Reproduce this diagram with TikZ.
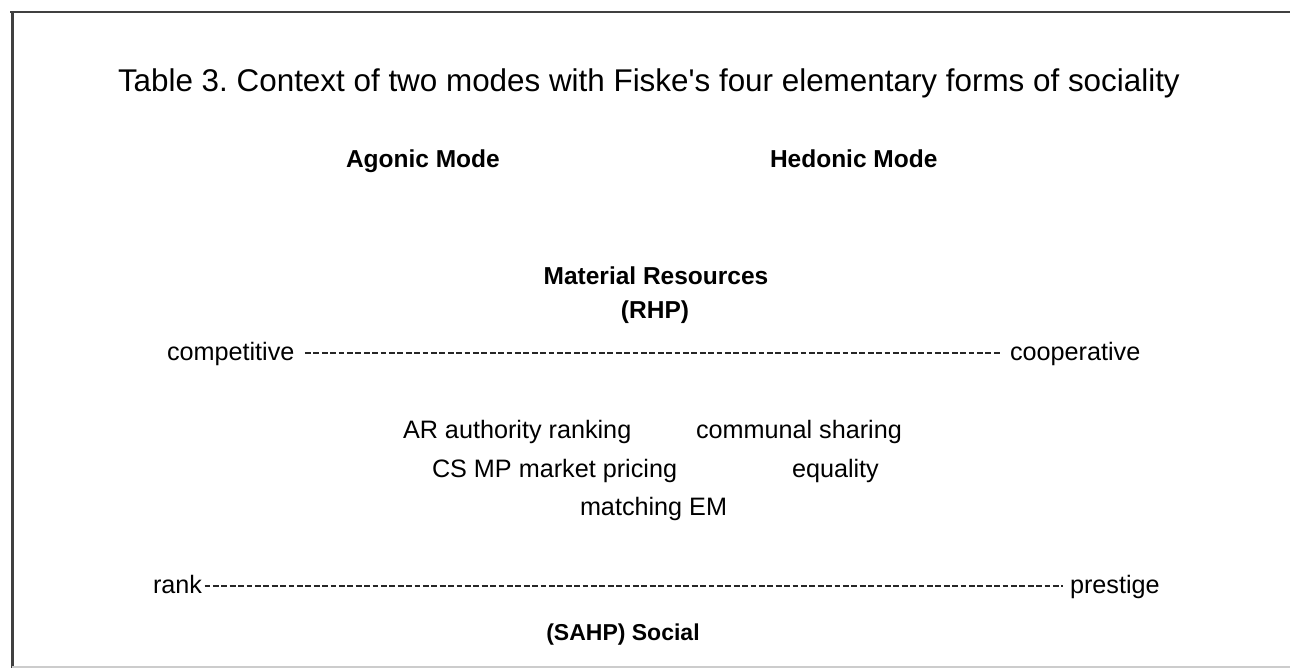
\documentclass[tikz,border=0pt]{standalone}
\usepackage{fontspec}
\newfontfamily\arialf{Liberation Sans}
\begin{document}
\begin{tikzpicture}[x=1pt,y=1pt,
  every node/.style={inner sep=0pt,outer sep=0pt,anchor=base west},
  titletxt/.style={font=\arialf\frenchspacing\fontsize{31.4}{36}\selectfont},
  bodytxt/.style={font=\arialf\fontsize{25.2}{30}\selectfont},
  headtxt/.style={font=\arialf\fontsize{24.5}{29}\selectfont\bfseries},
  hyphenline/.style={line width=1.6pt,dash pattern=on 5.8pt off 2.6pt,black!85},
  frameline/.style={draw=black!75,line width=2.6pt}]
\useasboundingbox (0,0) rectangle (1290,-668);
% frame
\draw[frameline] (10,-12) -- (1290,-12);
\draw[frameline,line width=3pt] (12,-12) -- (12,-668);
\draw[black!20,line width=1.5pt] (12,-667) -- (1290,-667);
% title
\node[titletxt] (title) at (118,-92) {Table 3. Context of two modes with Fiske's four elementary forms of sociality};
% modes
\node[headtxt] (agonic) at (346,-168) {Agonic Mode};
\node[headtxt] (hedonic) at (770,-168) {Hedonic Mode};
% material
\node[headtxt,anchor=base] (mat) at (656,-284) {Material Resources};
\node[headtxt,anchor=base] (rhp) at (655,-318) {(RHP)};
% competitive line
\node[bodytxt] (comp) at (167,-360) {competitive};
\node[bodytxt] (coop) at (1010,-360) {cooperative};
\draw[hyphenline] ([shift={(10.5pt,6.8pt)}]comp.base east) -- ([shift={(-9pt,6.8pt)}]coop.base west);
% forms
\node[bodytxt] (ar) at (403,-438) {AR authority ranking};
\node[bodytxt] (cs) at (696,-438) {communal sharing};
\node[bodytxt] (mp) at (432,-477) {CS MP market pricing};
\node[bodytxt] (eq) at (792,-477) {equality};
\node[bodytxt] (em) at (580,-515) {matching EM};
% rank line
\node[bodytxt] (rank) at (153,-593) {rank};
\node[bodytxt] (prest) at (1070,-593) {prestige};
\draw[hyphenline] ([shift={(2.5pt,6.8pt)}]rank.base east) -- ([shift={(-7pt,6.8pt)}]prest.base west);
% social
\node[headtxt,anchor=base,font=\arialf\fontsize{23}{28}\selectfont\bfseries] (soc) at (623,-640) {(SAHP) Social};
\end{tikzpicture}
\end{document}
